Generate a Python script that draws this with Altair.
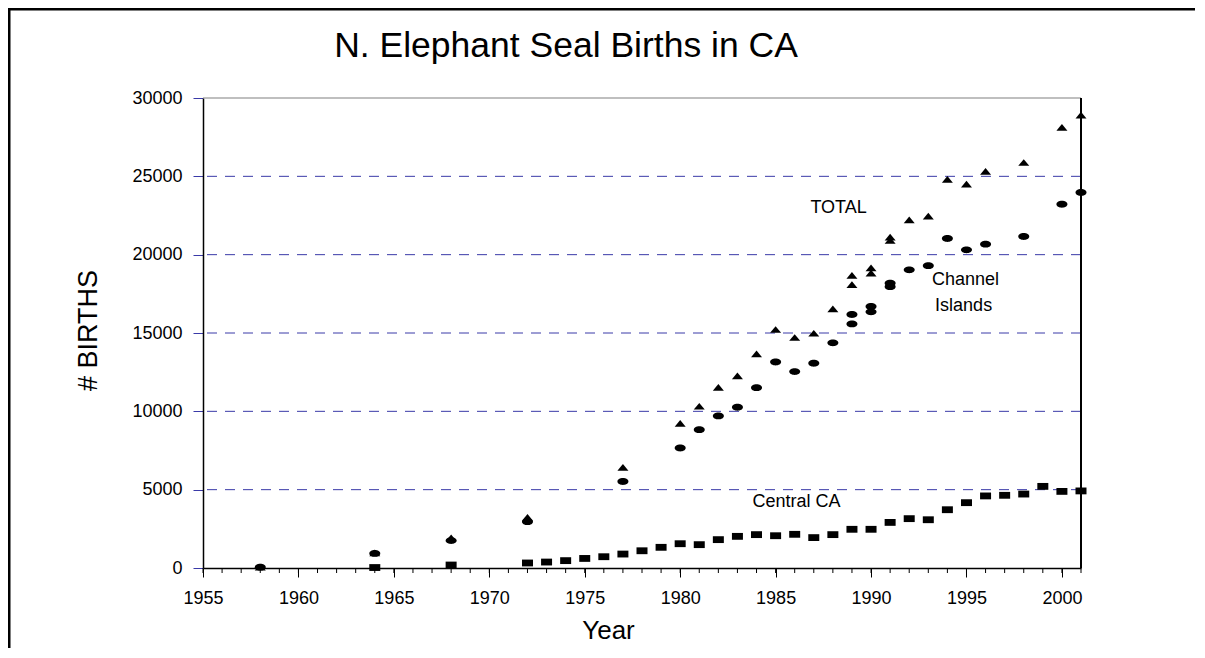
import altair as alt
import pandas as pd

# ---------------- data ----------------
central_years = [1964, 1968, 1972, 1973, 1974, 1975, 1976, 1977, 1978, 1979,
                 1980, 1981, 1982, 1983, 1984, 1985, 1986, 1987, 1988, 1989,
                 1990, 1991, 1992, 1993, 1994, 1995, 1996, 1997, 1998, 1999,
                 2000, 2001]
central_births = [30, 190, 320, 380, 470, 610, 720, 890, 1100, 1320,
                  1550, 1490, 1810, 2020, 2130, 2060, 2150, 1940, 2130, 2470,
                  2470, 2910, 3150, 3080, 3720, 4170, 4600, 4640, 4720, 5210,
                  4890, 4920]

channel_years = [1958, 1964, 1968, 1972, 1977, 1980, 1981, 1982, 1983, 1984,
                 1985, 1986, 1987, 1988, 1989, 1989, 1990, 1990, 1991, 1991,
                 1992, 1993, 1994, 1995, 1996, 1998, 2000, 2001]
channel_births = [50, 930, 1750, 2960, 5520, 7660, 8830, 9710, 10260, 11510,
                  13150, 12540, 13070, 14370, 15580, 16180, 16350, 16690, 17960, 18180,
                  19030, 19300, 21030, 20310, 20670, 21160, 23220, 23970]

total_years = [1958, 1964, 1968, 1972, 1977, 1980, 1981, 1982, 1983, 1984,
               1985, 1986, 1987, 1988, 1989, 1989, 1990, 1990, 1991, 1991,
               1992, 1993, 1994, 1995, 1996, 1998, 2000, 2001]
total_births = [50, 960, 1920, 3230, 6420, 9230, 10320, 11530, 12260, 13670,
                15220, 14710, 14980, 16540, 18090, 18670, 18820, 19160, 20900, 21110,
                22220, 22450, 24800, 24500, 25310, 25880, 28120, 28900]

x_tick_labels = [1955, 1960, 1965, 1970, 1975, 1980, 1985, 1990, 1995, 2000]
minor_years = list(range(1955, 2002))
y_tick_values = [0, 5000, 10000, 15000, 20000, 25000, 30000]
grid_values = [5000, 10000, 15000, 20000, 25000]

annot_labels = ["TOTAL", "Channel", "Islands", "Central CA"]
annot_years = [1988.3, 1994.95, 1994.85, 1986.1]
annot_values = [22960, 18390, 16710, 4190]

title_text = "N. Elephant Seal Births in CA"

# ---------------- layout ----------------
W, H = 878, 470
PAD = {"left": 195, "top": 90, "right": 114, "bottom": 80}
FONT = "Liberation Sans"
GRID_BLUE = "#3a3aa8"

xscale = alt.Scale(domain=[1955, 2001], nice=False, zero=False)
yscale = alt.Scale(domain=[0, 30000], nice=False, zero=True)

central_df = pd.DataFrame({"Year": central_years, "Births": central_births})
channel_df = pd.DataFrame({"Year": channel_years, "Births": channel_births})
total_df = pd.DataFrame({"Year": total_years, "Births": total_births})

ELLIPSE = "M -1 0 A 1 0.62 0 1 0 1 0 A 1 0.62 0 1 0 -1 0 Z"
RECT = "M -1 -0.62 L 1 -0.62 L 1 0.62 L -1 0.62 Z"
TRI = "M -1 0.6 L 0 -0.62 L 1 0.6 Z"

x_axis = alt.Axis(values=x_tick_labels, format="d", title="Year",
                  titleX=405, titleY=62, titleBaseline="middle", titleAlign="center",
                  titleFont=FONT, titleFontSize=26, titleFontWeight="normal", titleColor="black",
                  labelFont=FONT, labelFontSize=18, labelColor="black", labelPadding=12,
                  tickSize=9, tickColor="black", domainColor="black", domainWidth=1.5,
                  grid=False, labelFlush=False, labelOverlap=False)
y_axis = alt.Axis(values=y_tick_values, format="d", title="# BIRTHS",
                  titleX=-115, titleY=232, titleAngle=-90, titleBaseline="middle",
                  titleAlign="center", titleFont=FONT, titleFontSize=27,
                  titleFontWeight="normal", titleColor="black",
                  labelFont=FONT, labelFontSize=18, labelColor="black", labelPadding=11,
                  tickSize=10, tickColor=GRID_BLUE, domainColor="black", domainWidth=1.5,
                  grid=False, labelOverlap=False)

# gridlines
grid = alt.Chart(pd.DataFrame({"g": grid_values})).mark_rule(
    color=GRID_BLUE, strokeDash=[10, 8], strokeWidth=1
).encode(y=alt.Y("g:Q", scale=yscale, axis=y_axis))

top_border = alt.Chart(pd.DataFrame({"v": [30000]})).mark_rule(
    color="#808080", strokeWidth=1.2
).encode(y=alt.Y("v:Q", scale=yscale))

right_border = alt.Chart(pd.DataFrame({"v": [2001]})).mark_rule(
    color="black", strokeWidth=2
).encode(x=alt.X("v:Q", scale=xscale, axis=x_axis))

minor = alt.Chart(pd.DataFrame({"Year": minor_years})).mark_rule(
    color="black", strokeWidth=1
).encode(x=alt.X("Year:Q", scale=xscale), y=alt.value(H), y2=alt.value(H + 5))


def pts(df, shape):
    return alt.Chart(df).mark_point(
        shape=shape, filled=True, color="black", opacity=1, size=121, strokeWidth=0
    ).encode(x=alt.X("Year:Q", scale=xscale), y=alt.Y("Births:Q", scale=yscale))


annot = alt.Chart(pd.DataFrame({"label": annot_labels, "Year": annot_years,
                                "Births": annot_values})).mark_text(
    font=FONT, fontSize=18, color="black", align="center", baseline="middle"
).encode(x=alt.X("Year:Q", scale=xscale), y=alt.Y("Births:Q", scale=yscale), text="label:N")

title = alt.Chart(pd.DataFrame({"t": [title_text]})).mark_text(
    font=FONT, fontSize=35.5, color="black", align="center", baseline="middle"
).encode(x=alt.value(363), y=alt.value(-52), text="t:N")

frame_left = alt.Chart(pd.DataFrame({"a": [0]})).mark_rule(color="black", strokeWidth=3).encode(
    x=alt.value(-194), y=alt.value(-PAD["top"]), y2=alt.value(H + PAD["bottom"]))
frame_top = alt.Chart(pd.DataFrame({"a": [0]})).mark_rule(color="black", strokeWidth=3).encode(
    y=alt.value(-89), x=alt.value(-PAD["left"]), x2=alt.value(W + PAD["right"]))

chart = alt.layer(
    grid, top_border, minor, right_border,
    pts(central_df, RECT), pts(channel_df, ELLIPSE), pts(total_df, TRI),
    annot, title, frame_left, frame_top
).properties(
    width=W, height=H,
    autosize=alt.AutoSizeParams(type="none"),
    padding=PAD,
    background="white",
).configure_view(stroke=None)

chart.save("out.html", embed_options={"renderer": "svg", "actions": False})
